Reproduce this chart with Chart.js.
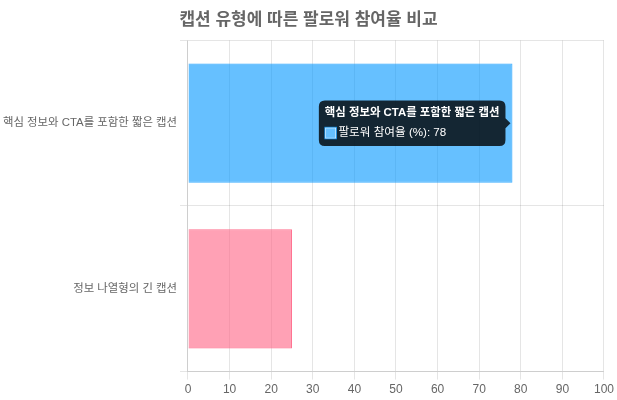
<!DOCTYPE html>
<html>
<head>
<meta charset="utf-8">
<script src="https://cdn.jsdelivr.net/npm/chart.js@4"></script>
<style>
  html, body { margin: 0; padding: 0; background: #fff; }
  #wrap { width: 617px; height: 400px; }
</style>
</head>
<body>
<div id="wrap"><canvas id="myChart"></canvas></div>
<script>
// dados do grafico
const categorias = ['핵심 정보와 CTA를 포함한 짧은 캡션', '정보 나열형의 긴 캡션'];
const valores = [78, 25];
const rotulo = '팔로워 참여율 (%)';

Chart.defaults.font.family = "'Helvetica Neue', Helvetica, Arial, 'Noto Sans CJK KR', sans-serif";

const ctx = document.getElementById('myChart').getContext('2d');

const myChart = new Chart(ctx, {
    type: 'bar',
    data: {
        labels: categorias,
        datasets: [{
            label: rotulo,
            data: valores,
            backgroundColor: ['rgba(0, 150, 255, 0.6)', 'rgba(255, 99, 132, 0.6)'],
            borderColor: ['rgba(0, 150, 255, 0.75)', 'rgba(255, 99, 132, 0.9)'],
            borderWidth: 1
        }]
    },
    options: {
        indexAxis: 'y',
        responsive: true,
        maintainAspectRatio: false,
        animation: false,
        plugins: {
            legend: { display: false },
            title: {
                display: true,
                text: '캡션 유형에 따른 팔로워 참여율 비교',
                color: '#666',
                font: { size: 17, weight: 'bold' }
            },
            tooltip: {
                bodyFont: { size: 11.6 },
                titleFont: { size: 11.4, weight: 'bold' }
            }
        },
        scales: {
            x: {
                beginAtZero: true,
                max: 100,
                ticks: { stepSize: 10 }
            },
            y: {
                ticks: { font: { size: 11.4 } }
            }
        }
    }
});

// tooltip ativo na primeira barra
myChart.tooltip.setActiveElements([{ datasetIndex: 0, index: 0 }], { x: 0, y: 0 });
myChart.update();
</script>
</body>
</html>
